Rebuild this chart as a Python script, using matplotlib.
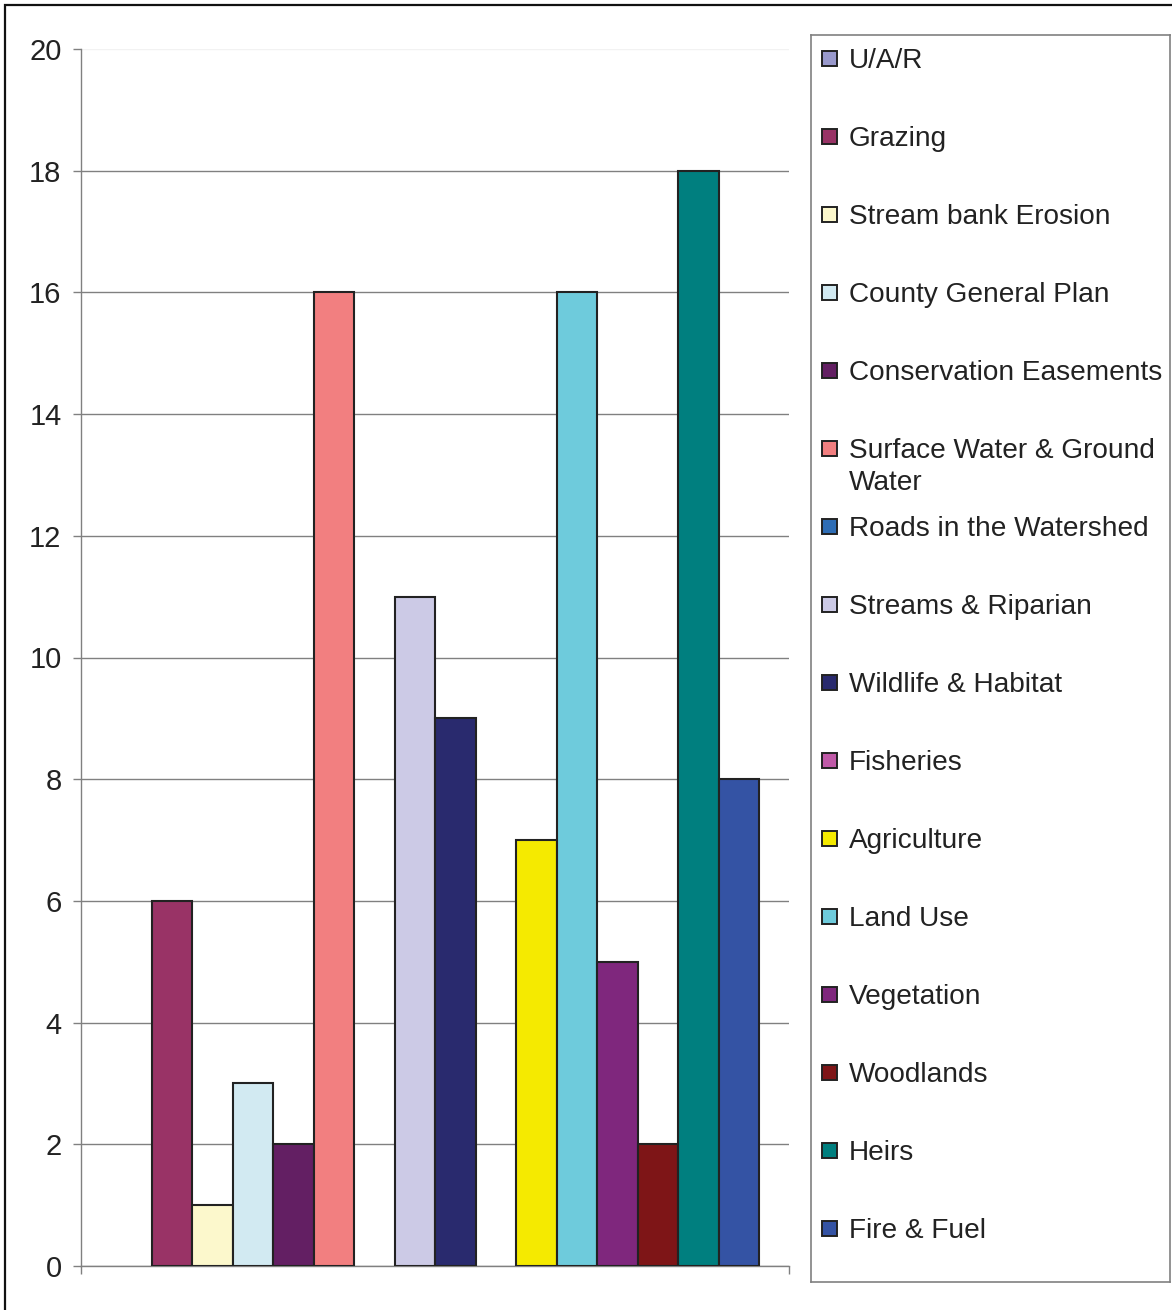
import matplotlib.pyplot as plt
from matplotlib.patches import Rectangle

plt.rcParams['font.family'] = ['Liberation Sans', 'DejaVu Sans']

# issue categories, counts and fill colours
labels = ['U/A/R', 'Grazing', 'Stream bank Erosion', 'County General Plan',
          'Conservation Easements', 'Surface Water & Ground\nWater',
          'Roads in the Watershed', 'Streams & Riparian', 'Wildlife & Habitat',
          'Fisheries', 'Agriculture', 'Land Use', 'Vegetation', 'Woodlands',
          'Heirs', 'Fire & Fuel']
counts = [0, 6, 1, 3, 2, 16, 0, 11, 9, 0, 7, 16, 5, 2, 18, 8]
colors = ['#9999cc', '#993366', '#fcf8cc', '#d2eaf2', '#631f63', '#f27f80',
          '#2e6db5', '#cccae6', '#292a6e', '#c05aa8', '#f5ea00', '#6ecbdc',
          '#7f277d', '#7e1517', '#007f7f', '#3453a4']
yticks = list(range(0, 21, 2))

W, H = 1172, 1310
fig = plt.figure(figsize=(W / 100, H / 100), dpi=100)

# outer chart frame
fig.patches.append(Rectangle((5 / W, -0.05), 1.2, (1305 / H) + 0.05,
                             transform=fig.transFigure, fill=False,
                             edgecolor='#111111', linewidth=1.6))

ax = fig.add_axes([81 / W, (H - 1266) / H, 708 / W, (1266 - 49) / H])
pos = list(range(len(counts)))
edges = ['#222222' if c > 0 else 'none' for c in counts]
ax.bar(pos, counts, width=1.0, color=colors, edgecolor=edges,
       linewidth=1.5, zorder=3)

gap = 30 / 40.5
ax.set_xlim(-0.5 - gap, len(counts) - 0.5 + gap)
ax.set_ylim(0, 20)
ax.set_yticks(yticks)
ax.set_yticklabels([str(t) for t in yticks], fontsize=21, color='#222222')
ax.set_xticks([-0.5 - gap, len(counts) - 0.5 + gap])
ax.set_xticklabels([])
ax.tick_params(axis='both', direction='out', length=6, width=1,
               color='#808080', pad=8)
ax.yaxis.grid(True, color='#808080', linewidth=1, zorder=0)
ax.get_ygridlines()[-1].set_color('#f2f2f2')
for side in ['top', 'right']:
    ax.spines[side].set_visible(False)
for side in ['left', 'bottom']:
    ax.spines[side].set_color('#808080')
    ax.spines[side].set_linewidth(1)

# legend box with one entry every 78 px
lx0, ly0, lx1, ly1 = 811, 35, 1170, 1282
lax = fig.add_axes([lx0 / W, (H - ly1) / H, (lx1 - lx0) / W, (ly1 - ly0) / H])
lax.set_xlim(lx0, lx1)
lax.set_ylim(ly1, ly0)
lax.set_xticks([])
lax.set_yticks([])
for s in lax.spines.values():
    s.set_color('#808080')
    s.set_linewidth(1.2)
for i, (lab, col) in enumerate(zip(labels, colors)):
    yc = 58 + 78 * i
    lax.add_patch(Rectangle((822, yc - 7.5), 15, 15, facecolor=col,
                            edgecolor='#222222', linewidth=1.4))
    lax.text(849, yc - 10, lab, fontsize=20.2, color='#222222',
             va='top', ha='left', linespacing=1.3)

fig.savefig('out.png', dpi=100)
